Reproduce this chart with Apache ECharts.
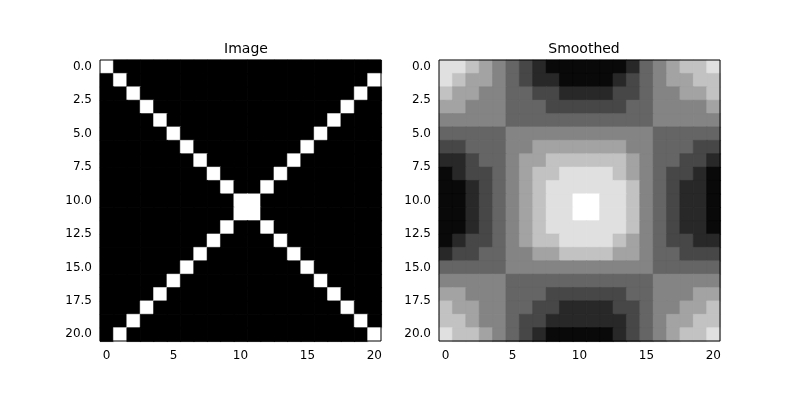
<!DOCTYPE html>
<html>
<head>
<meta charset="utf-8">
<script src="https://cdn.jsdelivr.net/npm/echarts@6/dist/echarts.min.js"></script>
<style>html,body{margin:0;background:#fff}#chart{width:800px;height:400px}</style>
</head>
<body>
<div id="chart"></div>
<script>
// grey level per cell, one string per row (0 = black, 1 = white)
const imageRows = [
  '100000000000000000000',
  '010000000000000000001',
  '001000000000000000010',
  '000100000000000000100',
  '000010000000000001000',
  '000001000000000010000',
  '000000100000000100000',
  '000000010000001000000',
  '000000001000010000000',
  '000000000100100000000',
  '000000000011000000000',
  '000000000011000000000',
  '000000000100100000000',
  '000000001000010000000',
  '000000010000001000000',
  '000000100000000100000',
  '000001000000000010000',
  '000010000000000001000',
  '000100000000000000100',
  '001000000000000000010',
  '010000000000000000001'
];
// smoothed grey levels, 0..9
const smoothRows = [
  '887654321111112456778',
  '876654322111123456677',
  '766554433222233455667',
  '665554443333334455556',
  '555554444444444455555',
  '444445555555555544444',
  '334445566666665544433',
  '223445667777776544332',
  '123345677888876543321',
  '112345678888887543221',
  '112345678899887543221',
  '112345678899887543221',
  '112345678888887543221',
  '123345677888876543322',
  '233445566777766544333',
  '444445555555555544444',
  '555554444444444455555',
  '665554443333334455566',
  '766554433222233455667',
  '776554332222223456677',
  '877654321111123456778'
];
const tickX = [0, 5, 10, 15, 20];
const tickY = [0, 2.5, 5, 7.5, 10, 12.5, 15, 17.5, 20];

function cells(rows) {
  const out = [];
  rows.forEach((s, r) => {
    for (let c = 0; c < s.length; c++) out.push([c, r, Number(s[c])]);
  });
  return out;
}

function grey(v) {
  const g = Math.round(Math.max(0, Math.min(1, v)) * 255);
  return 'rgb(' + g + ',' + g + ',' + g + ')';
}

function renderCell(params, api) {
  const c = api.value(0), r = api.value(1);
  const p0 = api.coord([c - 0.5, r - 0.5]);
  const p1 = api.coord([c + 0.5, r + 0.5]);
  return {
    type: 'rect',
    shape: { x: Math.min(p0[0], p1[0]), y: Math.min(p0[1], p1[1]),
             width: Math.abs(p1[0] - p0[0]) + 0.6, height: Math.abs(p1[1] - p0[1]) + 0.6 },
    style: { fill: grey(api.value(2)), stroke: grey(api.value(2)), lineWidth: 0.5 }
  };
}

const font = { fontFamily: 'DejaVu Sans', fontSize: 12, color: '#000' };
function xAxis(i) {
  return {
    type: 'value', gridIndex: i, min: -0.5, max: 20.5, splitLine: { show: false },
    axisLine: { show: false },
    axisTick: { show: true, customValues: tickX, length: 4, lineStyle: { color: '#000' } },
    axisLabel: Object.assign({ customValues: tickX, margin: 9 }, font)
  };
}
function yAxis(i) {
  return {
    type: 'value', gridIndex: i, min: -0.5, max: 20.5, inverse: true, splitLine: { show: false },
    axisLine: { show: false },
    axisTick: { show: true, customValues: tickY, length: 4, lineStyle: { color: '#000' } },
    axisLabel: Object.assign({ customValues: tickY, margin: 8, formatter: v => v.toFixed(1) }, font)
  };
}

const chart = echarts.init(document.getElementById('chart'));
chart.setOption({
  animation: false,
  title: [
    { text: 'Image', left: 241, top: 37, textAlign: 'center',
      textStyle: { fontFamily: 'DejaVu Sans', fontSize: 14, fontWeight: 'normal', color: '#000' } },
    { text: 'Smoothed', left: 579, top: 37, textAlign: 'center',
      textStyle: { fontFamily: 'DejaVu Sans', fontSize: 14, fontWeight: 'normal', color: '#000' } }
  ],
  grid: [
    { left: 100, top: 60, width: 281, height: 281, show: true, borderColor: '#000', borderWidth: 1, backgroundColor: 'transparent', z: 5 },
    { left: 439, top: 60, width: 281, height: 281, show: true, borderColor: '#000', borderWidth: 1, backgroundColor: 'transparent', z: 5 }
  ],
  xAxis: [xAxis(0), xAxis(1)],
  yAxis: [yAxis(0), yAxis(1)],
  series: [
    { type: 'custom', xAxisIndex: 0, yAxisIndex: 0, renderItem: renderCell, data: cells(imageRows) },
    { type: 'custom', xAxisIndex: 1, yAxisIndex: 1, renderItem: renderCell,
      data: cells(smoothRows).map(d => [d[0], d[1], (d[2] - 0.7) / 8.3]) }
  ]
});
</script>
</body>
</html>
